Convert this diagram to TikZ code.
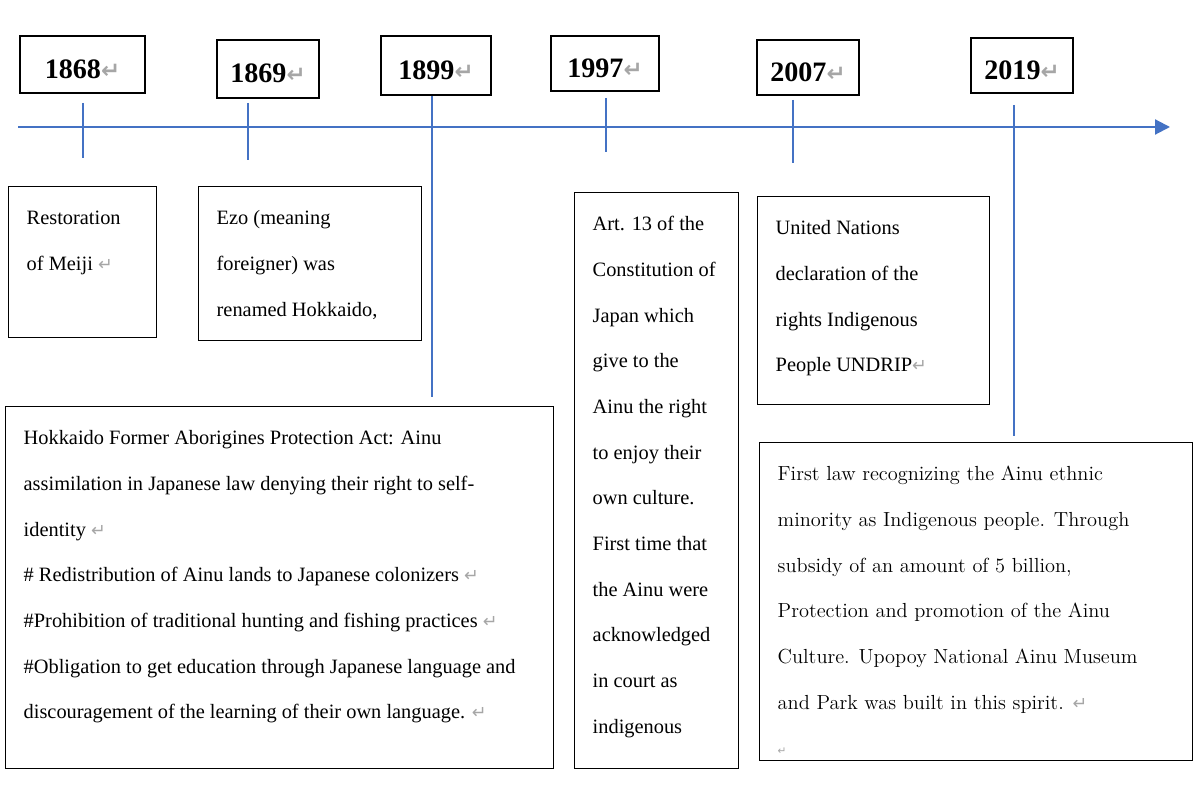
\documentclass[tikz,border=0pt]{standalone}
\usepackage{fontspec}
\setmainfont{Liberation Serif}
\newfontfamily\markfont{DejaVu Sans}
\newfontfamily\lawfont{Latin Modern Roman}
\usetikzlibrary{arrows.meta,positioning,calc}
\definecolor{axisblue}{HTML}{4472C4}
\definecolor{markgray}{HTML}{A6A6A6}
\newcommand{\pmark}[1][10]{{\markfont\color{markgray}\fontsize{#1}{#1}\selectfont ↵}}

\begin{document}
\begin{tikzpicture}[x=0.02cm,y=-0.02cm,
  yearbox/.style={draw,line width=0.8pt,inner sep=0pt,
                  text height=15.5pt,text depth=0pt,
                  font=\fontsize{16}{18}\selectfont\bfseries},
  evbox/.style={draw,line width=0.8pt,anchor=north west,
                inner xsep=0.36cm,inner ysep=0.12cm,
                font=\fontsize{11.6}{26}\selectfont},
  axisline/.style={line width=1.2pt,draw=axisblue,
                   -{Triangle[length=3mm,width=3mm,fill=axisblue]}},
  tick/.style={line width=1.2pt,draw=axisblue}
]
\fill[white] (0,0) rectangle (1200,800);
\useasboundingbox (0,0) rectangle (1200,800);

% timeline
\coordinate (axisstart) at (18,127);
\coordinate (axisend) at (1170,127);
\draw[axisline] (axisstart) -- (axisend);
\foreach \yr/\x/\a/\b in {1868/83/103/158, 1869/248/103/160, 1899/432/95/397,
                          1997/606/98/152, 2007/793/100/163, 2019/1014/105/436}{
  \coordinate (tick\yr top) at (\x,\a);
  \coordinate (tick\yr bot) at (\x,\b);
  \draw[tick] (tick\yr top) -- (tick\yr bot);
}

% years
\node[yearbox,minimum width=2.5cm,minimum height=1.14cm] (y1868) at (82.5,64.5) {1868\pmark[13]};
\node[yearbox,minimum width=2.04cm,minimum height=1.16cm] (y1869) at (268,69) {1869\pmark[13]};
\node[yearbox,minimum width=2.2cm,minimum height=1.18cm] (y1899) at (436,65.5) {1899\pmark[13]};
\node[yearbox,minimum width=2.16cm,minimum height=1.1cm] (y1997) at (605,63.5) {1997\pmark[13]};
\node[yearbox,minimum width=2.04cm,minimum height=1.1cm] (y2007) at (808,67.5) {2007\pmark[13]};
\node[yearbox,minimum width=2.04cm,minimum height=1.1cm] (y2019) at (1022,65.5) {2019\pmark[13]};

% events
\node[evbox] (meiji) at (8,186)
  {\parbox[t][2.78cm][t]{2.24cm}{\raggedright\strut
   Restoration\\ of Meiji \pmark}};
\node[evbox] (ezo) at (198,186)
  {\parbox[t][2.84cm][t]{3.74cm}{\raggedright\strut
   Ezo (meaning\\ foreigner) was\\ renamed Hokkaido,}};
\node[evbox] (protact) at (5,406)
  {\parbox[t][7.0cm][t]{10.24cm}{\raggedright\strut
   Hokkaido Former Aborigines Protection Act: Ainu\\
   assimilation in Japanese law denying their right to self-\\
   identity \pmark\\
   \# Redistribution of Ainu lands to Japanese colonizers \pmark\\
   \#Prohibition of traditional hunting and fishing practices \pmark\\
   \#Obligation to get education through Japanese language and\\
   discouragement of the learning of their own language. \pmark}};
\node[evbox] (art13) at (574,192)
  {\parbox[t][11.28cm][t]{2.56cm}{\raggedright\strut
   Art. 13 of the\\ Constitution of\\ Japan which\\ give to the\\
   Ainu the right\\ to enjoy their\\ own culture.\\ First time that\\
   the Ainu were\\ acknowledged\\ in court as\\ indigenous}};
\node[evbox] (undrip) at (757,196)
  {\parbox[t][3.92cm][t]{3.92cm}{\raggedright\strut
   United Nations\\ declaration of the\\ rights Indigenous\\ People UNDRIP\pmark}};
\node[evbox] (ainulaw) at (759,442)
  {\parbox[t][6.12cm][t]{7.94cm}{\lawfont\raggedright\strut
   First law recognizing the Ainu ethnic\\
   minority as Indigenous people. Through\\
   subsidy of an amount of 5 billion,\\
   Protection and promotion of the Ainu\\
   Culture. Upopoy National Ainu Museum\\
   and Park was built in this spirit. \pmark\\
   \pmark[6]}};
\end{tikzpicture}
\end{document}
